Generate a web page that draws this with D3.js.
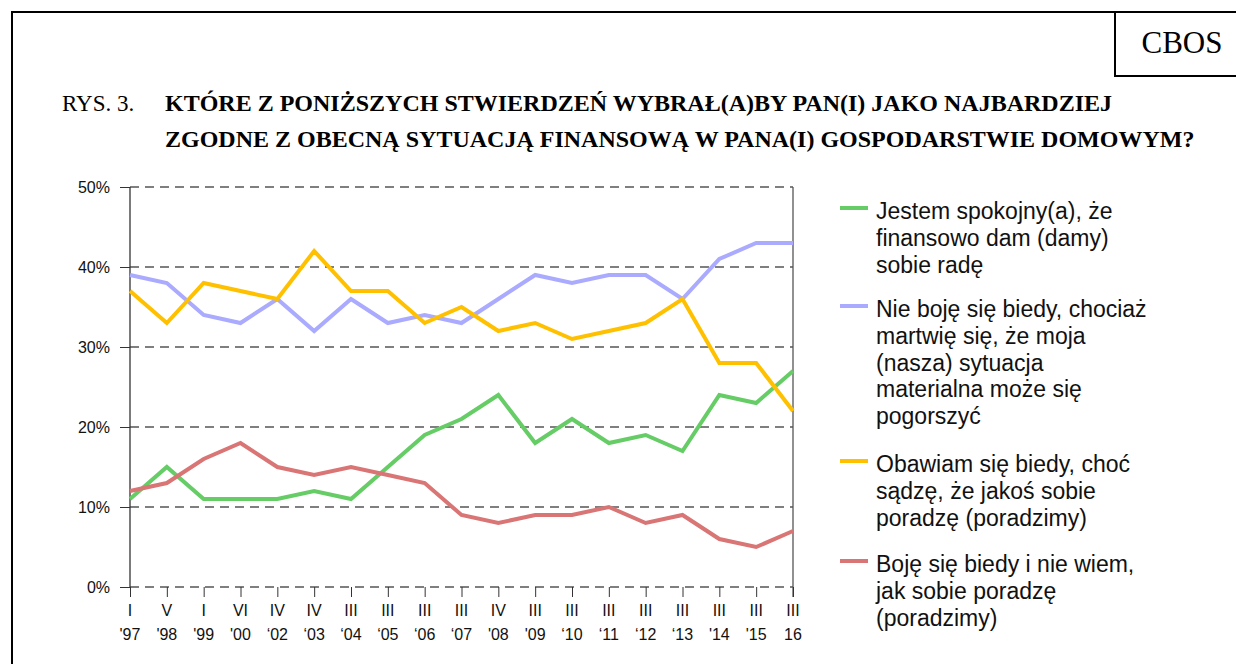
<!DOCTYPE html>
<html>
<head>
<meta charset="utf-8">
<script src="https://cdn.jsdelivr.net/npm/d3@7"></script>
<style>
  body { margin: 0; background: #fff; }
  svg { display: block; }
</style>
</head>
<body>
<div id="container"></div>
<script>
// data
let waves = ["I", "V", "I", "VI", "IV", "IV", "III", "III", "III", "III", "IV", "III", "III", "III", "III", "III", "III", "III", "III"];
let years = ["'97", "'98", "'99", "'00", "\u201802", "\u201803", "\u201804", "\u201805", "\u201806", "\u201807", "'08", "'09", "\u201810", "\u201811", "\u201812", "\u201813", "'14", "'15", "16"];
let spokojny = [11, 15, 11, 11, 11, 12, 11, 15, 19, 21, 24, 18, 21, 18, 19, 17, 24, 23, 27];
let nieBoje = [39, 38, 34, 33, 36, 32, 36, 33, 34, 33, 36, 39, 38, 39, 39, 36, 41, 43, 43];
let obawiam = [37, 33, 38, 37, 36, 42, 37, 37, 33, 35, 32, 33, 31, 32, 33, 36, 28, 28, 22];
let boje = [12, 13, 16, 18, 15, 14, 15, 14, 13, 9, 8, 9, 9, 10, 8, 9, 6, 5, 7];
let yTicks = [0, 10, 20, 30, 40, 50];

let seriesNames = [
  ["Jestem spokojny(a), że", "finansowo dam (damy)", "sobie radę"],
  ["Nie boję się biedy, chociaż", "martwię się, że moja", "(nasza) sytuacja", "materialna może się", "pogorszyć"],
  ["Obawiam się biedy, choć", "sądzę, że jakoś sobie", "poradzę (poradzimy)"],
  ["Boję się biedy i nie wiem,", "jak sobie poradzę", "(poradzimy)"]
];
let seriesColors = ["#66cc66", "#aaaaff", "#ffc000", "#d97575"];
let allSeries = [spokojny, nieBoje, obawiam, boje];

let w = 1236;
let h = 664;

let viz = d3.select("#container")
    .append("svg")
    .attr("width", w)
    .attr("height", h);

let serif = "'Liberation Serif', 'Times New Roman', serif";
let sans = "'Liberation Sans', Arial, sans-serif";

// frame + CBOS box
viz.append("path")
    .attr("d", "M12,664 L12,12 L1236,12")
    .attr("fill", "none").attr("stroke", "#000").attr("stroke-width", 2);
viz.append("path")
    .attr("d", "M1115,12 L1115,76 L1236,76")
    .attr("fill", "none").attr("stroke", "#000").attr("stroke-width", 2);
viz.append("text")
    .attr("x", 1182).attr("y", 53)
    .attr("text-anchor", "middle")
    .attr("font-family", serif)
    .attr("font-size", 31)
    .text("CBOS");

// title
viz.append("text")
    .attr("x", 62).attr("y", 111)
    .attr("font-family", serif).attr("font-size", 23)
    .text("RYS. 3.");
viz.append("text")
    .attr("x", 165).attr("y", 111)
    .attr("font-family", serif).attr("font-size", 24).attr("font-weight", "bold")
    .text("KTÓRE Z PONIŻSZYCH STWIERDZEŃ WYBRAŁ(A)BY PAN(I) JAKO NAJBARDZIEJ");
viz.append("text")
    .attr("x", 165).attr("y", 147)
    .attr("font-family", serif).attr("font-size", 24).attr("font-weight", "bold")
    .text("ZGODNE Z OBECNĄ SYTUACJĄ FINANSOWĄ W PANA(I) GOSPODARSTWIE DOMOWYM?");

// scales
let plotLeft = 130, plotRight = 793, plotTop = 187, plotBottom = 587;
let xScale = d3.scalePoint()
    .domain(d3.range(waves.length))
    .range([plotLeft, plotRight]);
let yScale = d3.scaleLinear().domain([0, 50]).range([plotBottom, plotTop]);

// grid lines
let grid = viz.append("g").classed("grid", true);
grid.selectAll("line.g")
    .data(yTicks)
    .enter()
    .append("line")
    .attr("x1", plotLeft).attr("x2", plotRight)
    .attr("y1", d => yScale(d)).attr("y2", d => yScale(d))
    .attr("stroke", "#555").attr("stroke-width", 1.3)
    .attr("stroke-dasharray", "9,6");

// y axis
let yAxis = d3.axisLeft(yScale).tickValues(yTicks).tickSize(10).tickFormat(d => d + "%");
let yAxisGroup = viz.append("g").attr("transform", "translate(" + plotLeft + ",0)").call(yAxis);
yAxisGroup.select(".domain").attr("stroke", "#333").attr("stroke-width", 1.3).attr("d", "M0," + plotTop + "V" + plotBottom);
yAxisGroup.selectAll("line").attr("stroke", "#333");
yAxisGroup.selectAll("text").attr("font-family", sans).attr("font-size", 16).attr("fill", "#111").attr("x", -20).attr("dy", "0.35em");

// right border of plot
viz.append("line")
    .attr("x1", plotRight).attr("x2", plotRight).attr("y1", plotTop).attr("y2", plotBottom + 10)
    .attr("stroke", "#555").attr("stroke-width", 1.3);

// x axis
let xAxis = d3.axisBottom(xScale).tickSize(10).tickFormat(() => "");
let xAxisGroup = viz.append("g").attr("transform", "translate(0," + plotBottom + ")").call(xAxis);
xAxisGroup.select(".domain").remove();
xAxisGroup.selectAll("line").attr("stroke", "#333");

let xLabels = viz.append("g").classed("xLabels", true);
xLabels.selectAll("text.wave")
    .data(waves)
    .enter()
    .append("text")
    .attr("x", (d, i) => xScale(i))
    .attr("y", 616)
    .attr("text-anchor", "middle")
    .attr("font-family", sans).attr("font-size", 16).attr("fill", "#111")
    .text(d => d);
xLabels.selectAll("text.year")
    .data(years)
    .enter()
    .append("text")
    .attr("x", (d, i) => xScale(i))
    .attr("y", 640)
    .attr("text-anchor", "middle")
    .attr("font-family", sans).attr("font-size", 16).attr("fill", "#111")
    .text(d => d);

// lines
let line = d3.line()
    .x((d, i) => xScale(i))
    .y(d => yScale(d));

let graphGroup = viz.append("g").classed("graphGroup", true);
graphGroup.selectAll("path")
    .data(allSeries)
    .enter()
    .append("path")
    .attr("d", d => line(d))
    .attr("fill", "none")
    .attr("stroke", (d, i) => seriesColors[i])
    .attr("stroke-width", 4)
    .attr("stroke-linejoin", "miter");

// legend
let legendTops = [208, 306, 461, 561];
let legend = viz.append("g").classed("legend", true);
seriesNames.forEach(function(lines, i) {
  let g = legend.append("g").attr("transform", "translate(0," + legendTops[i] + ")");
  g.append("line")
      .attr("x1", 840).attr("x2", 868).attr("y1", 0).attr("y2", 0)
      .attr("stroke", seriesColors[i]).attr("stroke-width", 4);
  g.selectAll("text")
      .data(lines)
      .enter()
      .append("text")
      .attr("x", 876)
      .attr("y", (d, j) => 11 + j * 26.8)
      .attr("font-family", sans).attr("font-size", 23).attr("fill", "#111")
      .text(d => d);
});
</script>
</body>
</html>
